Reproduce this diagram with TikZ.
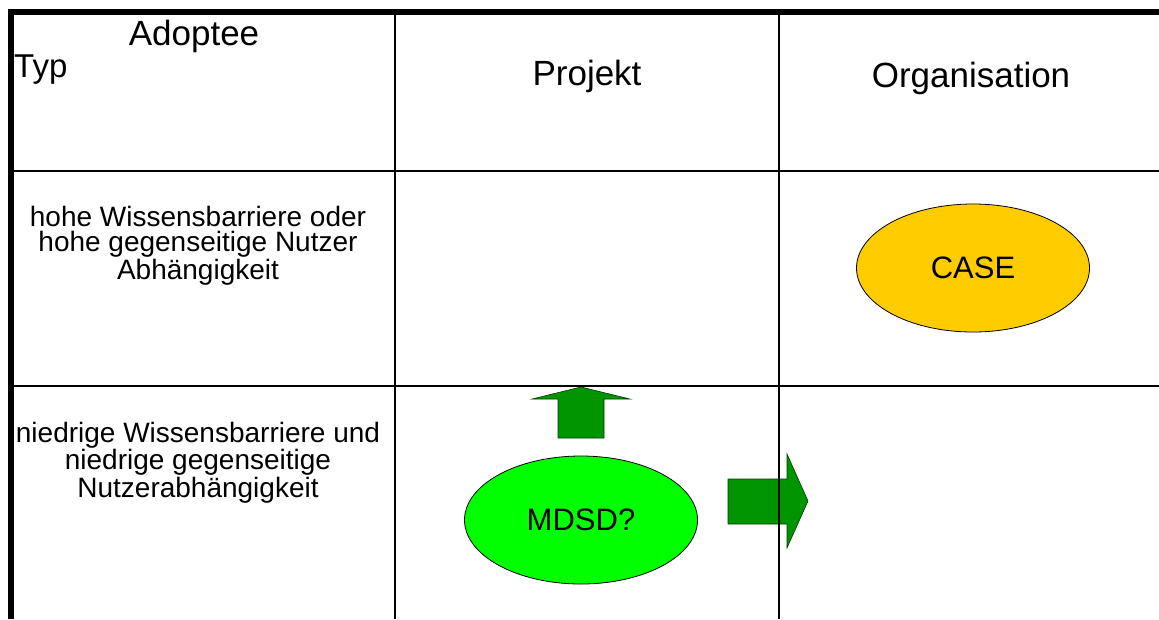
\documentclass[tikz,border=0pt]{standalone}
\usepackage{fontspec}
\setmainfont{Liberation Sans}
\usetikzlibrary{shapes.geometric}
\definecolor{casegold}{HTML}{FFCC00}
\definecolor{mdsdgreen}{HTML}{00FF00}
\definecolor{arrowgreen}{HTML}{009400}

\begin{document}
\begin{tikzpicture}[x=1pt,y=-1pt,
        gridline/.style={line width=2.8pt},
        border/.style={line width=6.5pt},
        header/.style={anchor=base,inner sep=0pt,font=\fontsize{35}{40}\selectfont},
        rowlabel/.style={anchor=base,inner sep=0pt,align=center,font=\fontsize{28}{25.3}\selectfont},
        blob/.style={ellipse,draw,line width=0.8pt,inner sep=0pt,minimum width=233pt,minimum height=128pt,font=\fontsize{31}{36}\selectfont},
        blockarrow/.style={draw=black!60!arrowgreen,fill=arrowgreen,line width=0.6pt}]
        \useasboundingbox (0,0) rectangle (1159,619);

        % header row
        \node[header] (adoptee) at (194,45) {Adoptee};
        \node[header,anchor=base west,font=\fontsize{33}{40}\selectfont] (typ) at (14,77) {Typ};
        \node[header] (projekt) at (587,85) {Projekt};
        \node[header] (organisation) at (971,87) {Organisation};

        % row labels (anchored at the last line)
        \node[rowlabel] (hoch) at (198,279) {hohe Wissensbarriere oder\\hohe gegenseitige Nutzer\\Abhängigkeit};
        \node[rowlabel] (niedrig) at (198,497) {niedrige Wissensbarriere und\\niedrige gegenseitige\\Nutzerabhängigkeit};

        \node[blob,fill=casegold] (case) at (973,268) {CASE};
        \node[blob,fill=mdsdgreen] (mdsd) at (581,520) {MDSD?};

        % block arrows
        \filldraw[blockarrow] (558,438) -- (604,438) -- (604,399) -- (630,399) -- (581,387) -- (532,399) -- (558,399) -- cycle;
        \filldraw[blockarrow] (728,479) -- (787,479) -- (787,454) -- (808,501) -- (787,548) -- (787,524) -- (728,524) -- cycle;

        % table lines
        \draw[gridline] (395,12) -- (395,619) (779,12) -- (779,619);
        \draw[gridline] (12,171) -- (1159,171) (12,386) -- (1159,386);
        \draw[border] (1159,12) -- (11,12) -- (11,619);
\end{tikzpicture}
\end{document}
